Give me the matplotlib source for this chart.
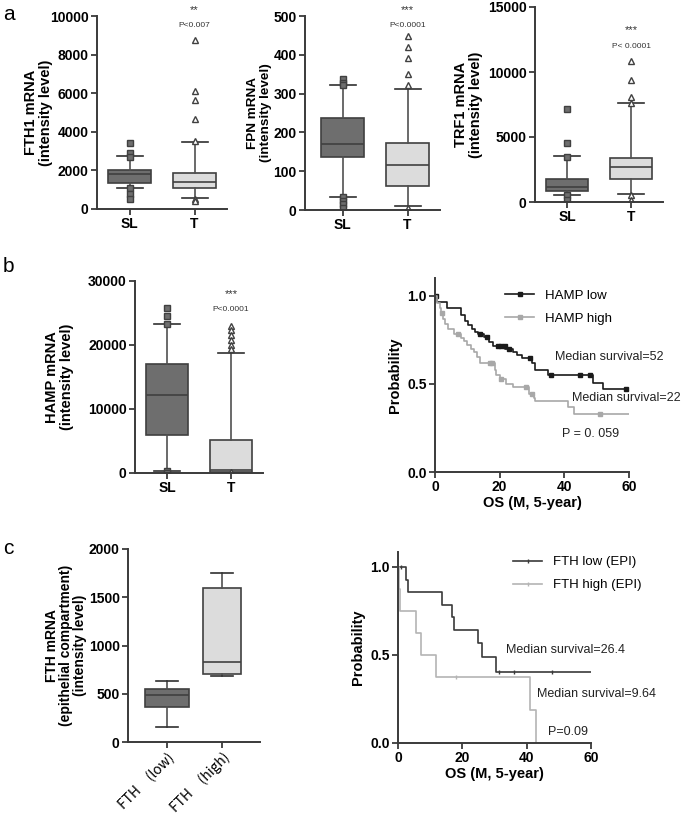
import numpy as np
import matplotlib
matplotlib.use('Agg')
import matplotlib.pyplot as plt

plt.rcParams['font.family'] = 'Liberation Sans'

# ---- box data: [whislo, q1, median, q3, whishi] ----
fth1_sl = [1100, 1360, 1820, 2040, 2750]
fth1_sl_out = [3400, 2920, 2720, 1100, 800, 530]
fth1_t = [570, 1090, 1380, 1890, 3490]
fth1_t_out = [8780, 6130, 5650, 4680, 3500, 520, 430]

fpn_sl = [34, 137, 170, 238, 323]
fpn_sl_out = [337, 328, 323, 34, 23, 15, 4]
fpn_t = [10, 62, 116, 173, 313]
fpn_t_out = [448, 420, 393, 350, 323, 4]

trf1_sl = [515, 850, 1160, 1800, 3520]
trf1_sl_out = [7130, 4550, 3470, 515, 130]
trf1_t = [640, 1750, 2700, 3370, 7640]
trf1_t_out = [10860, 9390, 8050, 7640, 515, 130]

hamp_sl = [310, 5990, 12130, 16980, 23330]
hamp_sl_out = [25780, 24530, 23330, 310, 0]
hamp_t = [50, 150, 520, 5210, 18800]
hamp_t_out = [23020, 22290, 21510, 20730, 20050, 19320, 150]

fth_low = [156, 363, 484, 547, 633]
fth_high = [685, 702, 824, 1599, 1747]

# ---- survival data ----
hamp_low_t = [0, 0.7, 3.6, 8, 9.3, 10.3, 11.3, 12.4, 13.4, 15, 16.8, 18, 21.6, 24, 25.5, 26.8, 30, 31, 35, 49, 52, 60]
hamp_low_s = [1.0, 0.962, 0.93, 0.89, 0.854, 0.835, 0.81, 0.795, 0.78, 0.765, 0.736, 0.717, 0.70, 0.683, 0.664, 0.645, 0.617, 0.58, 0.55, 0.503, 0.469, 0.469]
hamp_low_cens = [0.3, 14, 16, 19.5, 20.5, 21.5, 23, 29.4, 35.8, 44.8, 48, 59]
hamp_high_t = [0, 0.5, 1.5, 2, 2.5, 3, 4, 6, 8, 9, 10, 11, 12, 13, 14, 18.5, 19, 20, 22, 24, 29, 30.5, 31, 41, 43, 60]
hamp_high_s = [1.0, 0.96, 0.93, 0.90, 0.87, 0.84, 0.81, 0.78, 0.76, 0.74, 0.72, 0.70, 0.68, 0.65, 0.62, 0.58, 0.55, 0.53, 0.50, 0.48, 0.44, 0.42, 0.40, 0.37, 0.33, 0.33]
hamp_high_cens = [2.3, 7, 17, 17.6, 20.5, 28, 30, 51]

fth_low_t = [0, 2.6, 3, 13.6, 16.8, 17.5, 24.8, 26, 30.4, 60]
fth_low_s = [1.0, 0.928, 0.857, 0.785, 0.715, 0.64, 0.57, 0.49, 0.405, 0.405]
fth_low_cens = [1, 31.5, 36, 48]
fth_high_t = [0, 0.2, 0.5, 5.7, 7.1, 11.7, 41, 42.9]
fth_high_s = [1.0, 0.875, 0.75, 0.625, 0.5, 0.375, 0.1875, 0.0]
fth_high_cens = [18]

W, H = 685, 818
fig = plt.figure(figsize=(6.85, 8.18), dpi=100)

def add_ax(l, t, r, b):
    return fig.add_axes([l / W, 1 - b / H, (r - l) / W, (b - t) / H])

def style(ax):
    for s in ['top', 'right']:
        ax.spines[s].set_visible(False)
    for s in ['left', 'bottom']:
        ax.spines[s].set_linewidth(1.4)
        ax.spines[s].set_color('#3a3a3a')
    ax.tick_params(width=1.3, length=4, color='#3a3a3a', labelsize=10, pad=2)
    for lab in ax.get_yticklabels():
        lab.set_fontweight('bold')

def stat(v, out=()):
    return dict(whislo=v[0], q1=v[1], med=v[2], q3=v[3], whishi=v[4], fliers=list(out))

def draw_box(ax, v, out, pos, face, marker, mface, width=0.66):
    ax.bxp([stat(v, out)], positions=[pos], widths=width, patch_artist=True,
           showfliers=True, capwidths=0.4,
           boxprops=dict(facecolor=face, edgecolor='#404040', linewidth=1.2),
           medianprops=dict(color='#404040', linewidth=1.2),
           whiskerprops=dict(color='#505050', linewidth=1.2),
           capprops=dict(color='#303030', linewidth=1.2),
           flierprops=dict(marker=marker, markersize=5, markerfacecolor=mface,
                           markeredgecolor='#404040', markeredgewidth=1.0))

dark, light = '#6e6e6e', '#dcdcdc'

def box_panel(rect, sl, sl_out, t, t_out, ymax, yticks, ylabel, star, ptxt, star_y, p_y,
              label_x, label_size=10.5, xlim=(0.5, 2.5)):
    ax = add_ax(*rect)
    draw_box(ax, sl, sl_out, 1, dark, 's', dark)
    draw_box(ax, t, t_out, 2, light, '^', 'white')
    ax.set_xlim(*xlim)
    ax.set_ylim(0, ymax)
    ax.set_yticks(yticks)
    ax.set_xticks([1, 2])
    ax.set_xticklabels(['SL', 'T'], fontweight='bold', fontsize=11)
    ax.set_ylabel(ylabel, fontweight='bold', fontsize=label_size, linespacing=1.05)
    ax.yaxis.set_label_coords(label_x, 0.5)
    ax.text(2, star_y, star, ha='center', va='center', fontsize=8, color='#333', clip_on=False)
    ax.text(2, p_y, ptxt, ha='center', va='center', fontsize=6, color='#333', clip_on=False)
    style(ax)
    return ax

box_panel((97, 16, 227, 209), fth1_sl, fth1_sl_out, fth1_t, fth1_t_out, 10000,
          [0, 2000, 4000, 6000, 8000, 10000], 'FTH1 mRNA\n(intensity level)', '**', 'P<0.007',
          10300, 9500, -0.34)
box_panel((305, 16, 440, 210), fpn_sl, fpn_sl_out, fpn_t, fpn_t_out, 500,
          [0, 100, 200, 300, 400, 500], 'FPN mRNA\n(intensity level)', '***', 'P<0.0001',
          516, 476, -0.245, label_size=9.7, xlim=(0.42, 2.5))
box_panel((535, 7, 663, 202), trf1_sl, trf1_sl_out, trf1_t, trf1_t_out, 15000,
          [0, 5000, 10000, 15000], 'TRF1 mRNA\n(intensity level)', '***', 'P< 0.0001',
          13200, 11960, -0.41)
box_panel((135, 281, 263, 473), hamp_sl, hamp_sl_out, hamp_t, hamp_t_out, 30000,
          [0, 10000, 20000, 30000], 'HAMP mRNA\n(intensity level)', '***', 'P<0.0001',
          28020, 25520, -0.48)

# panel c left
ax = add_ax(128, 549, 260, 742)
draw_box(ax, fth_low, [], 1, dark, 's', dark, width=0.8)
draw_box(ax, fth_high, [], 2, light, '^', 'white', width=0.7)
ax.set_xlim(0.29, 2.69)
ax.set_ylim(0, 2000)
ax.set_yticks([0, 500, 1000, 1500, 2000])
ax.set_xticks([1, 2])
ax.set_xticklabels(['FTH\u3000(low)', 'FTH\u3000(high)'], rotation=45, ha='right',
                   rotation_mode='anchor', fontsize=9, family=['Noto Sans CJK SC', 'Liberation Sans'])
ax.set_ylabel('FTH mRNA\n(epithelial compartment)\n(intensity level)', fontweight='bold',
              fontsize=10, linespacing=1.0)
ax.yaxis.set_label_coords(-0.31, 0.5)
style(ax)

def surv_at(times, surv, x):
    i = np.searchsorted(times, x, side='right') - 1
    return np.asarray(surv)[i]

def km_panel(rect, ytop, curves, legend_loc, notes):
    ax = add_ax(*rect)
    handles = []
    for t, s, cens, col, lab, mk in curves:
        ax.step(t, s, where='post', color=col, linewidth=1.2, label=lab)
        ax.plot(cens, surv_at(t, s, cens), linestyle='none', marker=mk, markersize=3.5,
                color=col, markeredgewidth=1.0)
        h, = ax.plot([], [], color=col, linewidth=1.2, marker=mk, markersize=3.5)
        handles.append((h, lab))
    ax.set_xlim(0, 60)
    ax.set_ylim(0, ytop)
    ax.set_xticks([0, 20, 40, 60])
    ax.set_yticks([0.0, 0.5, 1.0])
    ax.set_yticklabels(['0.0', '0.5', '1.0'])
    ax.set_xlabel('OS (M, 5-year)', fontweight='bold', fontsize=10.5, labelpad=1)
    ax.set_ylabel('Probability', fontweight='bold', fontsize=10.5)
    ax.legend([h for h, _ in handles], [l for _, l in handles], loc='upper left',
              bbox_to_anchor=legend_loc, frameon=False, fontsize=9.5, handlelength=2.2,
              labelspacing=0.8)
    for x, y, txt in notes:
        ax.text(x, y, txt, fontsize=9, va='center', color='#222', clip_on=False)
    style(ax)
    for lab in ax.get_xticklabels():
        lab.set_fontweight('bold')
    return ax

km_panel((435, 278, 629, 472), 1.10,
         [(hamp_low_t, hamp_low_s, hamp_low_cens, '#1a1a1a', 'HAMP low', 's'),
          (hamp_high_t, hamp_high_s, hamp_high_cens, '#a8a8a8', 'HAMP high', 's')],
         (0.30, 1.0),
         [(37, 0.65, 'Median survival=52'), (42.3, 0.417, 'Median survival=22'),
          (39.4, 0.214, 'P = 0. 059')])

km_panel((398, 552, 591, 743), 1.085,
         [(fth_low_t, fth_low_s, fth_low_cens, '#3a3a3a', 'FTH low (EPI)', '|'),
          (fth_high_t, fth_high_s, fth_high_cens, '#b4b4b4', 'FTH high (EPI)', '|')],
         (0.535, 1.04),
         [(33.5, 0.53, 'Median survival=26.4'), (43.1, 0.28, 'Median survival=9.64'),
          (46.7, 0.06, 'P=0.09')])

fig.text(3 / W, 1 - 14 / H, 'a', fontsize=15, va='center', ha='left')
fig.text(3 / W, 1 - 266 / H, 'b', fontsize=15, va='center', ha='left')
fig.text(3 / W, 1 - 548 / H, 'c', fontsize=15, va='center', ha='left')

fig.savefig('out.png', dpi=100)
